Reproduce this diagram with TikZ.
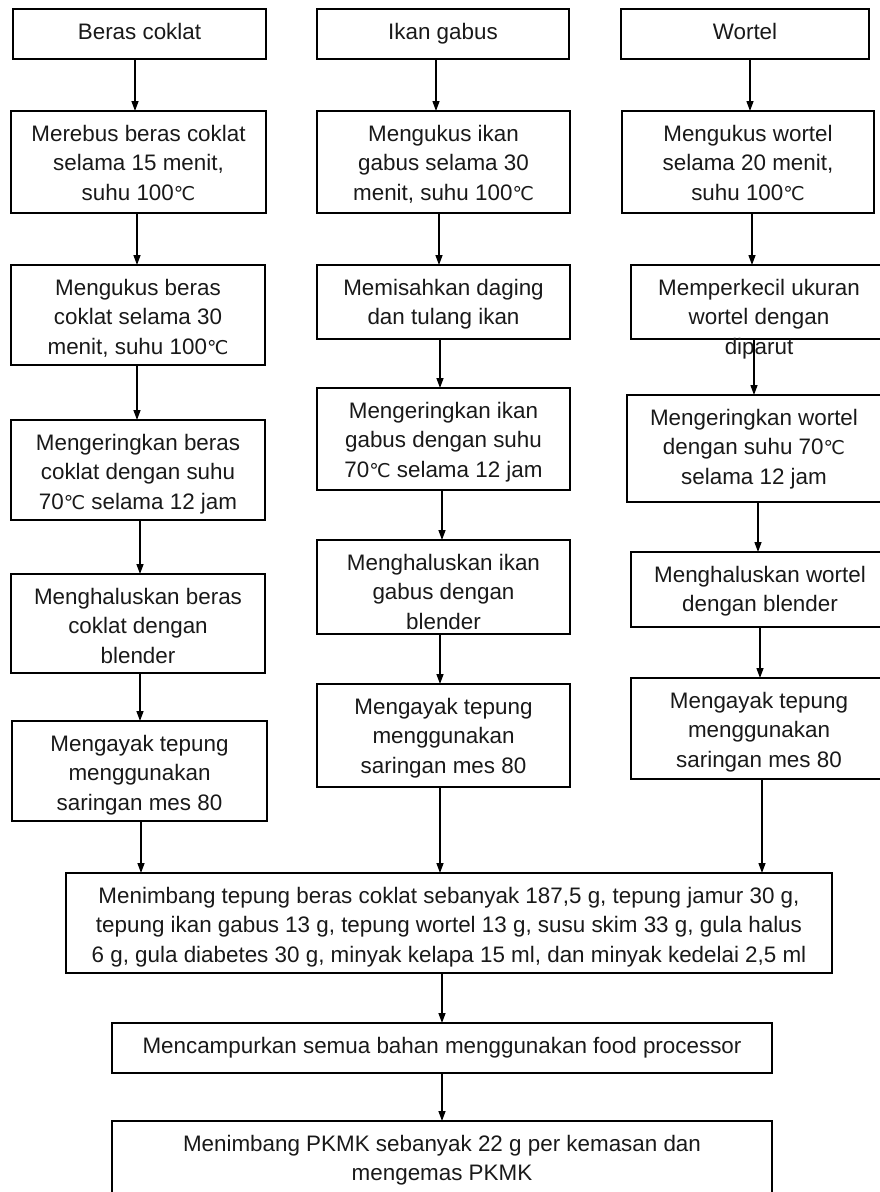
\documentclass[tikz,border=0pt]{standalone}
\usepackage{fontspec}
\setmainfont{Liberation Sans}
\newfontfamily\dvfont{DejaVu Sans}
\usetikzlibrary{arrows.meta}
\newcommand\degC{{\dvfont\fontsize{19}{29.5}\selectfont ℃}}
\newcommand\firststrut{\rule{0pt}{17pt}}
\definecolor{txtc}{RGB}{25,25,25}
\tikzset{
  boxst/.style={draw=black, line width=1.4pt, rectangle, inner sep=0pt, outer sep=0pt},
  txtst/.style={align=center, inner sep=0pt, text=txtc, font=\fontsize{22.4}{29.5}\selectfont},
  arr/.style={-{Triangle[length=10pt,width=7pt]}, line width=1.3pt, black},
}
\newcommand\flowbox[6]{%
  \node[boxst, minimum width=#4pt-#2pt, minimum height=#5pt-#3pt] (#1) at ({(#2+#4)/2},{(#3+#5)/2}) {};
  \node[txtst, anchor=north] (#1t) at ({(#2+#4)/2},{#3+13}) {\firststrut#6};
}
\begin{document}
\begin{tikzpicture}[x=1pt,y=-1pt]
\useasboundingbox (0,0) rectangle (879,1192);
% column 1
\flowbox{b1}{13}{9}{266}{59}{Beras coklat}
\flowbox{b2}{11}{111}{266}{213}{Merebus beras coklat\\selama 15 menit,\\suhu 100\degC}
\flowbox{b3}{11}{265}{265}{365}{Mengukus beras\\coklat selama 30\\menit, suhu 100\degC}
\flowbox{b4}{11}{420}{265}{520}{Mengeringkan beras\\coklat dengan suhu\\70\degC{} selama 12 jam}
\flowbox{b5}{11}{574}{265}{673}{Menghaluskan beras\\coklat dengan\\blender}
\flowbox{b6}{12}{721}{267}{821}{Mengayak tepung\\menggunakan\\saringan mes 80}
% column 2
\flowbox{i1}{317}{9}{569}{59}{Ikan gabus}
\flowbox{i2}{317}{111}{570}{213}{Mengukus ikan\\gabus selama 30\\menit, suhu 100\degC}
\flowbox{i3}{317}{265}{570}{339}{Memisahkan daging\\dan tulang ikan}
\flowbox{i4}{317}{388}{570}{490}{Mengeringkan ikan\\gabus dengan suhu\\70\degC{} selama 12 jam}
\flowbox{i5}{317}{540}{570}{634}{Menghaluskan ikan\\gabus dengan\\blender}
\flowbox{i6}{317}{684}{570}{787}{Mengayak tepung\\menggunakan\\saringan mes 80}
% column 3
\flowbox{w1}{621}{9}{869}{59}{Wortel}
\flowbox{w2}{622}{111}{874}{213}{Mengukus wortel\\selama 20 menit,\\suhu 100\degC}
\flowbox{w3}{631}{265}{887}{339}{Memperkecil ukuran\\wortel dengan\\diparut}
\flowbox{w4}{627}{395}{881}{502}{Mengeringkan wortel\\dengan suhu 70\degC\\selama 12 jam}
\flowbox{w5}{631}{552}{889}{627}{Menghaluskan wortel\\dengan blender}
\flowbox{w6}{631}{678}{887}{779}{Mengayak tepung\\menggunakan\\saringan mes 80}
% merged
\flowbox{m1}{66}{873}{832}{973}{Menimbang tepung beras coklat sebanyak 187,5 g, tepung jamur 30 g,\\tepung ikan gabus 13 g, tepung wortel 13 g, susu skim 33 g, gula halus\\6 g, gula diabetes 30 g, minyak kelapa 15 ml, dan minyak kedelai 2,5 ml}
\flowbox{m2}{112}{1023}{772}{1073}{Mencampurkan semua bahan menggunakan food processor}
\flowbox{m3}{112}{1121}{772}{1210}{Menimbang PKMK sebanyak 22 g per kemasan dan\\mengemas PKMK}
% arrow columns
\coordinate (xa1) at (135,0); \coordinate (xa2) at (137,0); \coordinate (xa3) at (137,0);
\coordinate (xa4) at (140,0); \coordinate (xa5) at (140,0); \coordinate (xa6) at (141,0);
\coordinate (xb1) at (436,0); \coordinate (xb2) at (439,0); \coordinate (xb3) at (440,0);
\coordinate (xb4) at (442,0); \coordinate (xb5) at (440,0); \coordinate (xb6) at (440,0);
\coordinate (xc1) at (750,0); \coordinate (xc2) at (752,0); \coordinate (xc3) at (754,0);
\coordinate (xc4) at (758,0); \coordinate (xc5) at (760,0); \coordinate (xc6) at (762,0);
\coordinate (xm) at (442,0);
\draw[arr] (b1.south -| xa1) -- (b2.north -| xa1);
\draw[arr] (b2.south -| xa2) -- (b3.north -| xa2);
\draw[arr] (b3.south -| xa3) -- (b4.north -| xa3);
\draw[arr] (b4.south -| xa4) -- (b5.north -| xa4);
\draw[arr] (b5.south -| xa5) -- (b6.north -| xa5);
\draw[arr] (b6.south -| xa6) -- (m1.north -| xa6);
\draw[arr] (i1.south -| xb1) -- (i2.north -| xb1);
\draw[arr] (i2.south -| xb2) -- (i3.north -| xb2);
\draw[arr] (i3.south -| xb3) -- (i4.north -| xb3);
\draw[arr] (i4.south -| xb4) -- (i5.north -| xb4);
\draw[arr] (i5.south -| xb5) -- (i6.north -| xb5);
\draw[arr] (i6.south -| xb6) -- (m1.north -| xb6);
\draw[arr] (w1.south -| xc1) -- (w2.north -| xc1);
\draw[arr] (w2.south -| xc2) -- (w3.north -| xc2);
\draw[arr] (w3.south -| xc3) -- (w4.north -| xc3);
\draw[arr] (w4.south -| xc4) -- (w5.north -| xc4);
\draw[arr] (w5.south -| xc5) -- (w6.north -| xc5);
\draw[arr] (w6.south -| xc6) -- (m1.north -| xc6);
\draw[arr] (m1.south -| xm) -- (m2.north -| xm);
\draw[arr] (m2.south -| xm) -- (m3.north -| xm);
\end{tikzpicture}
\end{document}
